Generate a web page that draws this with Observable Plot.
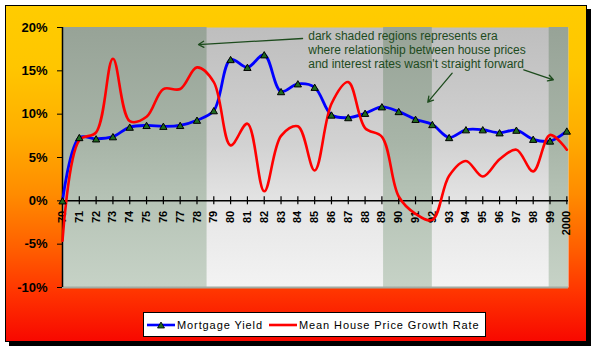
<!DOCTYPE html>
<html>
<head>
<meta charset="utf-8">
<script src="https://cdn.jsdelivr.net/npm/d3@7"></script>
<script src="https://cdn.jsdelivr.net/npm/@observablehq/plot@0.6"></script>
<style>
  html, body { margin: 0; padding: 0; background: #fff; }
  #wrap { position: relative; width: 595px; height: 350px; overflow: hidden; background: #fff; font-family: Arial, "Liberation Sans", sans-serif; }
  #frame { position: absolute; left: 5px; top: 5px; width: 580px; height: 335px; border: 1px solid #000;
    box-shadow: 4px 4px 0 #000;
    background: linear-gradient(to bottom, #ffcc00 0%, #ffc600 18%, #ffae00 38%, #ff8c00 56%, #ff6000 72%, #ff3600 85%, #f80800 100%); }
  #chart { position: absolute; left: 0; top: 0; }
  #legend { position: absolute; left: 143px; top: 312px; width: 341px; height: 23px; border: 1px solid #000; background: #fff;
    font: 11px Arial, "Liberation Sans", sans-serif; letter-spacing: 0.9px; display: flex; align-items: center; color: #000; }
  #legend svg { display: block; }
</style>
</head>
<body>
<div id="wrap">
  <div id="frame"></div>
  <div id="chart"></div>
  <div id="legend"></div>
</div>
<script>
// ---- data ----
const years = [1970,1971,1972,1973,1974,1975,1976,1977,1978,1979,1980,1981,1982,1983,1984,1985,1986,1987,1988,1989,1990,1991,1992,1993,1994,1995,1996,1997,1998,1999,2000];
const xTickLabels = ["70","71","72","73","74","75","76","77","78","79","80","81","82","83","84","85","86","87","88","89","90","91","92","93","94","95","96","97","98","99","2000"];
const mortgageYield = [0,7.3,7.15,7.4,8.5,8.7,8.6,8.7,9.3,10.4,16.3,15.4,16.85,12.6,13.5,13.1,9.9,9.6,10.1,10.85,10.3,9.4,8.8,7.3,8.2,8.2,7.85,8.15,7.1,6.9,8.05];
const houseGrowth = [-4.6,7.0,7.9,16.4,9.2,9.7,12.9,12.9,15.4,13.7,6.4,8.9,1.1,7.5,8.6,3.5,11.2,13.7,8.4,7.4,0.5,-1.5,-2.2,2.9,4.6,2.8,4.8,5.9,3.4,7.6,5.9];
const yTicks = [-10,-5,0,5,10,15,20];
const seriesNames = ["Mortgage Yield", "Mean House Price Growth Rate"];
const seriesColors = ["#0000ff", "#ff0000"];
const shadeStart = [1970, 1989.1, 1998.95];
const shadeEnd = [1978.6, 1992, 2000.1];
const noteLines = ["dark shaded regions represents era", "where relationship between house prices", "and interest rates wasn't straight forward"];
const noteX = [1984.62, 1984.62, 1984.62];
const noteY = [18.96, 17.34, 15.78];
const arrowX1 = [1984.28, 1997.44, 1993.18];
const arrowY1 = [18.73, 15.12, 14.73];
const arrowX2 = [1978.09, 1999.20, 1991.73];
const arrowY2 = [18.03, 13.97, 11.38];

// ---- tables ----
const rows = years.map((y, i) => ({year: y, label: xTickLabels[i], mortgage: mortgageYield[i], house: houseGrowth[i]}));
const shades = shadeStart.map((s, i) => ({x1: s, x2: shadeEnd[i]}));
const notes = noteLines.map((t, i) => ({text: t, x: noteX[i], y: noteY[i]}));
const arrows = arrowX1.map((x, i) => ({x1: x, y1: arrowY1[i], x2: arrowX2[i], y2: arrowY2[i]}));
const noteColor = "#1d4b1d";

const chart = Plot.plot({
  width: 595,
  height: 300,
  marginLeft: 62,
  marginRight: 27,
  marginTop: 27,
  marginBottom: 13,
  style: {background: "transparent", overflow: "visible", fontFamily: "Arial, 'Liberation Sans', sans-serif", color: "#000"},
  x: {domain: [1970, 2000.1], axis: null},
  y: {domain: [-10, 20], axis: null},
  marks: [
    Plot.frame({fill: "url(#lightGrad)", stroke: "none"}),
    Plot.rect(shades, {x1: "x1", x2: "x2", fill: "url(#darkGrad)"}),
    Plot.ruleY([-10], {stroke: "#a2aba2", strokeWidth: 2}),
    Plot.ruleY([0], {stroke: "#000", strokeWidth: 1.5}),
    Plot.ruleX(rows, {x: "year", y1: d => 0, y2: d => 0, insetTop: 4, insetBottom: 4, stroke: "#000", strokeWidth: 1.2}),
    Plot.text(rows, {x: "year", y: d => 0, text: "label", rotate: -90, textAnchor: "end", dy: 10, fontSize: 11, fontWeight: "bold", fill: "#000"}),
    Plot.ruleX([1970], {stroke: "#000", strokeWidth: 1.5}),
    Plot.axisY({ticks: yTicks, tickFormat: d => d + "%", tickSize: 5, tickPadding: 10, fontSize: 13, fontWeight: "bold", stroke: "#000", fill: "#000"}),
    Plot.line(rows, {x: "year", y: "mortgage", stroke: seriesColors[0], strokeWidth: 2.8, curve: "catmull-rom"}),
    Plot.line(rows, {x: "year", y: "house", stroke: seriesColors[1], strokeWidth: 2.6, curve: "catmull-rom"}),
    Plot.dot(rows, {x: "year", y: "mortgage", symbol: "triangle", r: 2.7, dy: 1, fill: "#1f6a1f", stroke: "#000", strokeWidth: 1}),
    Plot.text(notes, {x: "x", y: "y", text: "text", textAnchor: "start", fontSize: 12, fill: noteColor}),
    Plot.arrow(arrows, {x1: "x1", y1: "y1", x2: "x2", y2: "y2", stroke: noteColor, strokeWidth: 1.3, headLength: 7})
  ]
});

// gradients for the plot area
const NS = "http://www.w3.org/2000/svg";
const defs = document.createElementNS(NS, "defs");
function grad(id, stops) {
  const g = document.createElementNS(NS, "linearGradient");
  g.setAttribute("id", id);
  g.setAttribute("x1", "0"); g.setAttribute("y1", "0"); g.setAttribute("x2", "0"); g.setAttribute("y2", "1");
  for (const [o, c] of stops) {
    const s = document.createElementNS(NS, "stop");
    s.setAttribute("offset", o); s.setAttribute("stop-color", c);
    g.appendChild(s);
  }
  defs.appendChild(g);
}
grad("lightGrad", [[0, "#bebebe"], [0.45, "#d2d2d2"], [0.7, "#e6e6e6"], [1, "#f3f3f3"]]);
grad("darkGrad", [[0, "#97a397"], [0.45, "#a8b5a8"], [0.7, "#b8c5b8"], [1, "#c6d2c6"]]);
chart.insertBefore(defs, chart.firstChild);
document.getElementById("chart").appendChild(chart);

// legend
const legend = document.getElementById("legend");
function swatch(color, marker) {
  const svg = document.createElementNS(NS, "svg");
  svg.setAttribute("width", 28); svg.setAttribute("height", 12);
  const l = document.createElementNS(NS, "line");
  l.setAttribute("x1", 0); l.setAttribute("x2", 28); l.setAttribute("y1", 6); l.setAttribute("y2", 6);
  l.setAttribute("stroke", color); l.setAttribute("stroke-width", 2.6);
  svg.appendChild(l);
  if (marker) {
    const t = document.createElementNS(NS, "path");
    t.setAttribute("d", "M14,3 L17.5,9 L10.5,9 Z");
    t.setAttribute("fill", "#1f6a1f"); t.setAttribute("stroke", "#000"); t.setAttribute("stroke-width", 0.8);
    svg.appendChild(t);
  }
  return svg;
}
seriesNames.forEach((name, i) => {
  const s = swatch(seriesColors[i], i === 0);
  s.style.marginLeft = i === 0 ? "3px" : "6px";
  legend.appendChild(s);
  const span = document.createElement("span");
  span.textContent = name;
  span.style.marginLeft = "2px";
  legend.appendChild(span);
});
</script>
</body>
</html>
